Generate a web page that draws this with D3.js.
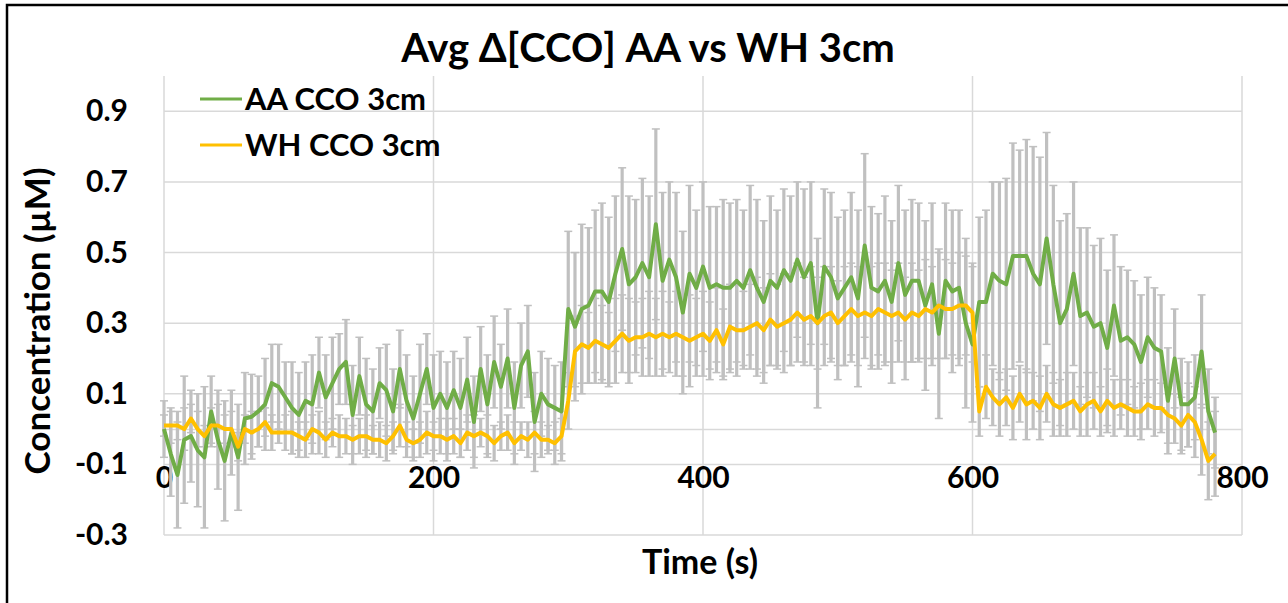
<!DOCTYPE html>
<html>
<head>
    <meta charset="UTF-8">
    <script src="https://cdnjs.cloudflare.com/ajax/libs/d3/7.8.5/d3.min.js"></script>
    <style>
        body{
            margin: 0;
            background-color: #ffffff;
        }
        svg text {
            font-family: Lato, "Open Sans", "DejaVu Sans", sans-serif;
            font-weight: bold;
            fill: #000000;
        }
    </style>
</head>
<body>
    <svg id="svg" width="1288" height="603"></svg>
    <script>
        // sample times, one reading every 5 s
        var times = d3.range(0, 781, 5);

        // AA CCO 3cm (green)
        var aaValues = [
            0.00,-0.07,-0.13,-0.03,-0.02,-0.06,-0.08,0.05,-0.03,-0.09,-0.01,-0.08,
            0.03,0.035,0.05,0.07,0.13,0.12,0.09,0.06,0.04,0.08,0.07,0.16,
            0.09,0.13,0.17,0.19,0.04,0.15,0.07,0.05,0.13,0.11,0.05,0.17,
            0.08,0.03,0.10,0.17,0.06,0.10,0.06,0.11,0.06,0.14,0.02,0.17,
            0.07,0.19,0.12,0.20,0.06,0.18,0.22,0.02,0.10,0.07,0.06,0.05,
            0.34,0.29,0.34,0.35,0.39,0.39,0.36,0.44,0.51,0.41,0.43,0.47,
            0.43,0.58,0.42,0.48,0.43,0.33,0.44,0.40,0.46,0.40,0.41,0.40,
            0.40,0.42,0.40,0.45,0.40,0.36,0.42,0.40,0.45,0.42,0.48,0.43,
            0.47,0.30,0.46,0.43,0.37,0.40,0.43,0.37,0.52,0.40,0.39,0.42,
            0.36,0.47,0.38,0.42,0.42,0.35,0.41,0.27,0.42,0.39,0.40,0.30,
            0.24,0.36,0.36,0.44,0.42,0.41,0.49,0.49,0.49,0.44,0.41,0.54,
            0.41,0.30,0.34,0.44,0.32,0.33,0.29,0.30,0.23,0.35,0.25,0.26,
            0.24,0.19,0.26,0.23,0.22,0.08,0.20,0.07,0.07,0.09,0.22,0.05,
            -0.01
        ];
        var aaErr = [
            0.08,0.12,0.15,0.18,0.13,0.16,0.20,0.10,0.14,0.17,0.12,0.15,
            0.13,0.12,0.10,0.13,0.11,0.12,0.10,0.13,0.12,0.11,0.14,0.10,
            0.12,0.13,0.10,0.12,0.14,0.11,0.13,0.12,0.10,0.13,0.12,0.11,
            0.13,0.12,0.14,0.10,0.15,0.12,0.13,0.11,0.14,0.12,0.13,0.12,
            0.14,0.13,0.12,0.14,0.13,0.12,0.13,0.14,0.12,0.13,0.12,0.14,
            0.22,0.21,0.24,0.22,0.23,0.25,0.24,0.22,0.23,0.25,0.22,0.24,
            0.23,0.27,0.25,0.22,0.24,0.23,0.25,0.22,0.24,0.23,0.22,0.25,
            0.24,0.23,0.22,0.24,0.25,0.23,0.24,0.22,0.23,0.24,0.22,0.25,
            0.23,0.24,0.22,0.24,0.23,0.22,0.24,0.25,0.26,0.23,0.22,0.24,
            0.23,0.22,0.24,0.23,0.22,0.24,0.23,0.24,0.22,0.23,0.22,0.24,
            0.22,0.24,0.26,0.26,0.28,0.30,0.32,0.30,0.33,0.36,0.36,0.30,
            0.28,0.29,0.27,0.26,0.25,0.24,0.23,0.24,0.22,0.20,0.21,0.19,
            0.18,0.19,0.17,0.17,0.16,0.15,0.14,0.13,0.12,0.12,0.16,0.12,
            0.10
        ];

        // WH CCO 3cm (yellow)
        var whValues = [
            0.01,0.01,0.01,0.00,0.03,0.00,-0.02,0.01,0.01,0.00,0.00,-0.05,
            0.00,-0.01,0.00,0.02,-0.01,-0.01,-0.01,-0.01,-0.02,-0.03,0.00,-0.01,
            -0.03,-0.01,-0.02,-0.02,-0.03,-0.02,-0.02,-0.03,-0.03,-0.04,-0.02,0.01,
            -0.03,-0.04,-0.03,-0.01,-0.02,-0.02,-0.03,-0.02,-0.04,-0.01,-0.02,-0.01,
            -0.02,-0.04,-0.02,-0.01,-0.04,-0.02,-0.03,-0.01,-0.03,-0.03,-0.04,-0.02,
            0.08,0.22,0.24,0.23,0.25,0.24,0.23,0.25,0.27,0.25,0.26,0.26,
            0.27,0.26,0.27,0.26,0.27,0.26,0.25,0.26,0.27,0.25,0.28,0.24,
            0.29,0.28,0.28,0.29,0.30,0.28,0.31,0.29,0.30,0.31,0.33,0.31,
            0.32,0.30,0.32,0.33,0.30,0.32,0.34,0.32,0.33,0.32,0.34,0.33,
            0.32,0.33,0.31,0.33,0.32,0.34,0.33,0.35,0.34,0.34,0.35,0.35,
            0.33,0.05,0.12,0.09,0.07,0.09,0.06,0.10,0.07,0.08,0.06,0.10,
            0.07,0.06,0.07,0.08,0.05,0.07,0.08,0.05,0.08,0.06,0.07,0.06,
            0.05,0.05,0.07,0.06,0.06,0.04,0.03,0.01,0.04,0.02,-0.03,-0.09,
            -0.07
        ];
        var whErr = [
            0.03,0.05,0.04,0.06,0.04,0.05,0.03,0.05,0.06,0.04,0.05,0.04,
            0.04,0.06,0.05,0.04,0.05,0.03,0.05,0.06,0.04,0.05,0.04,0.06,
            0.05,0.04,0.06,0.05,0.04,0.05,0.06,0.04,0.05,0.05,0.04,0.06,
            0.05,0.04,0.05,0.06,0.04,0.05,0.06,0.05,0.04,0.05,0.06,0.04,
            0.06,0.05,0.04,0.05,0.06,0.04,0.05,0.06,0.05,0.04,0.06,0.05,
            0.08,0.10,0.11,0.10,0.12,0.11,0.10,0.12,0.11,0.12,0.10,0.11,
            0.12,0.11,0.12,0.10,0.12,0.11,0.13,0.11,0.12,0.11,0.12,0.10,
            0.12,0.13,0.11,0.12,0.13,0.12,0.13,0.12,0.14,0.13,0.14,0.12,
            0.14,0.13,0.14,0.13,0.12,0.14,0.13,0.14,0.13,0.14,0.13,0.14,
            0.13,0.14,0.12,0.14,0.13,0.14,0.13,0.15,0.14,0.13,0.15,0.14,
            0.14,0.07,0.09,0.08,0.09,0.08,0.09,0.08,0.10,0.08,0.09,0.08,
            0.09,0.08,0.09,0.08,0.07,0.09,0.08,0.07,0.09,0.08,0.07,0.08,
            0.07,0.08,0.07,0.08,0.07,0.08,0.07,0.08,0.09,0.10,0.10,0.11,
            0.12
        ];

        var xTicks = [0, 200, 400, 600, 800];
        var yTicks = [-0.3, -0.1, 0.1, 0.3, 0.5, 0.7, 0.9];

        var series = [
            {name: "AA CCO 3cm", values: aaValues, err: aaErr, color: "#70ad47"},
            {name: "WH CCO 3cm", values: whValues, err: whErr, color: "#ffc000"}
        ];

        var svg = d3.select("#svg");
        var gridColor = "#d9d9d9";

        var xScale = d3.scaleLinear().domain([0, 800]).range([164, 1242]);
        var yScale = d3.scaleLinear().domain([-0.3, 1.0]).range([535, 76]);

        //outer frame
        svg.append("rect")
            .attr("x", 7).attr("y", 5)
            .attr("width", 1300).attr("height", 620)
            .attr("fill", "none")
            .attr("stroke", "#000")
            .attr("stroke-width", 2.5);

        //gridlines
        svg.append("g").selectAll("line").data(yTicks).enter()
            .append("line")
            .attr("x1", xScale(0)).attr("x2", xScale(800))
            .attr("y1", function(d){ return yScale(d); })
            .attr("y2", function(d){ return yScale(d); })
            .attr("stroke", gridColor).attr("stroke-width", 1.5);

        svg.append("g").selectAll("line").data(xTicks).enter()
            .append("line")
            .attr("x1", function(d){ return xScale(d); })
            .attr("x2", function(d){ return xScale(d); })
            .attr("y1", yScale(1.0)).attr("y2", yScale(-0.3))
            .attr("stroke", gridColor).attr("stroke-width", 1.5);

        //x axis crosses at zero
        var xAxis = svg.append("g")
            .attr("transform", "translate(0," + yScale(0) + ")")
            .call(d3.axisBottom(xScale).tickValues(xTicks).tickSize(0).tickPadding(59).tickFormat(d3.format("d")));
        xAxis.select(".domain").attr("stroke", gridColor).attr("stroke-width", 1.5);
        xAxis.selectAll("text").attr("font-size", 30).attr("dy", 0).attr("font-family", null);

        var yAxis = svg.append("g")
            .attr("transform", "translate(" + 132 + ",0)")
            .call(d3.axisLeft(yScale).tickValues(yTicks).tickSize(0).tickPadding(4).tickFormat(d3.format(".1f")));
        yAxis.select(".domain").remove();
        yAxis.selectAll("text").attr("font-size", 30).attr("font-family", null)
            .text(function(d){ return d3.format(".1f")(d).replace("\u2212", "-"); });

        //error bars
        var capHalf = 4;
        series.forEach(function(s){
            var g = svg.append("g").attr("stroke", "#c0c0c0");
            var pts = times.map(function(t, i){ return {t: t, v: s.values[i], e: s.err[i]}; });
            g.selectAll("line.bar").data(pts).enter().append("line")
                .attr("stroke-width", 3.2)
                .attr("x1", function(d){ return xScale(d.t); })
                .attr("x2", function(d){ return xScale(d.t); })
                .attr("y1", function(d){ return yScale(d.v + d.e); })
                .attr("y2", function(d){ return yScale(d.v - d.e); });
            g.selectAll("line.top").data(pts).enter().append("line")
                .attr("stroke-width", 1.5)
                .attr("x1", function(d){ return xScale(d.t) - capHalf; })
                .attr("x2", function(d){ return xScale(d.t) + capHalf; })
                .attr("y1", function(d){ return yScale(d.v + d.e); })
                .attr("y2", function(d){ return yScale(d.v + d.e); });
            g.selectAll("line.bottom").data(pts).enter().append("line")
                .attr("stroke-width", 1.5)
                .attr("x1", function(d){ return xScale(d.t) - capHalf; })
                .attr("x2", function(d){ return xScale(d.t) + capHalf; })
                .attr("y1", function(d){ return yScale(d.v - d.e); })
                .attr("y2", function(d){ return yScale(d.v - d.e); });
        });

        //lines
        var line = d3.line()
            .x(function(d, i){ return xScale(times[i]); })
            .y(function(d){ return yScale(d); });

        series.forEach(function(s){
            svg.append("path")
                .datum(s.values)
                .attr("d", line)
                .attr("fill", "none")
                .attr("stroke", s.color)
                .attr("stroke-width", 4)
                .attr("stroke-linejoin", "round");
        });

        //legend
        var legend = svg.append("g");
        series.forEach(function(s, i){
            var ly = 99 + i * 46;
            legend.append("line")
                .attr("x1", 200).attr("x2", 242)
                .attr("y1", ly).attr("y2", ly)
                .attr("stroke", s.color).attr("stroke-width", 3);
            legend.append("text")
                .attr("x", 245).attr("y", ly + 11)
                .attr("font-size", 31)
                .text(s.name);
        });

        //titles
        svg.append("text")
            .attr("x", 648).attr("y", 62)
            .attr("text-anchor", "middle")
            .attr("font-size", 40)
            .text("Avg \u0394[CCO] AA vs WH 3cm");

        svg.append("text")
            .attr("x", 700).attr("y", 574)
            .attr("text-anchor", "middle")
            .attr("font-size", 34)
            .text("Time (s)");

        svg.append("text")
            .attr("transform", "translate(50,321) rotate(-90)")
            .attr("text-anchor", "middle")
            .attr("font-size", 35)
            .text("Concentration (\u00b5M)");
    </script>
</body>
</html>
